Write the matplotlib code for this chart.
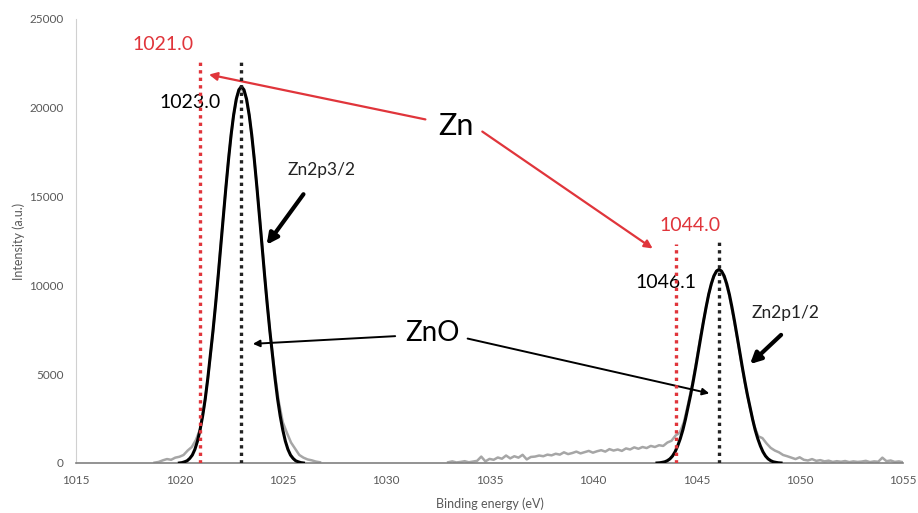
import numpy as np
import matplotlib.pyplot as plt

plt.rcParams['font.family'] = ['Lato', 'DejaVu Sans']

# measured spectrum, Zn2p3/2 window (0.2 eV steps)
raw_be_a = np.round(np.linspace(1018.8, 1026.8, 41), 1)
raw_int_a = [20, 60, 150, 220, 180, 300,
             350, 450, 700, 900, 1300,
             1900, 3200, 5000, 7100, 9500,
             12300, 14900, 17400, 19400, 20750,
             21100, 20700, 19400, 17400, 14900,
             12300, 9500, 7200, 5200, 3500,
             2300, 1700, 1150, 800, 450,
             300, 200, 150, 80, 40]

# measured spectrum, background + Zn2p1/2 window (0.2 eV steps)
raw_be_b = np.round(np.linspace(1033.0, 1055.0, 111), 1)
raw_int_b = [40, 90, 30, 60, 100, 40, 80, 120, 360, 90,
             230, 180, 310, 240, 420, 260, 380, 300, 460, 200,
             340, 360, 420, 380, 470, 430, 520, 470, 600, 500,
             560, 640, 540, 610, 680, 580, 660, 720, 640, 780,
             700, 760, 680, 820, 760, 880, 800, 900, 840, 960,
             900, 1000, 960, 1150, 1250,
             1550, 1700, 2300, 3300, 4400, 5700, 7100, 8300, 9500, 10350,
             10850, 10800, 10300, 9400, 8200, 6900, 5500, 4200, 3100, 2100,
             1500, 1400, 1100, 850, 700, 600, 450, 380, 300, 220,
             320, 180, 140, 220, 120, 160, 90, 130, 60, 100,
             70, 110, 50, 90, 60, 80, 120, 50, 90, 70,
             300, 100, 140, 60, 90, 40]

# fitted components (0.125 eV steps)
fit_be_1 = np.round(np.linspace(1020.0, 1026.0, 49), 3)
fit_int_1 = [0, 20, 65, 125, 255, 445, 765, 1230, 1865, 2650, 3605, 4770,
             6105, 7440, 8925, 10515, 12190, 13865, 15520, 17065, 18465, 19610,
             20480, 21010,
             21200,
             21010, 20480,
             19610, 18465, 17065, 15520, 13865, 12190, 10515, 8925, 7440, 6105,
             4770, 3605, 2650, 1865, 1230, 765, 445, 255, 125, 65, 20, 0]
fit_be_2 = np.round(np.linspace(1043.1, 1049.1, 49), 3)
fit_int_2 = [0, 10, 35, 65, 130, 230, 390, 630, 960, 1365, 1855, 2455,
             3140, 3825, 4590, 5405, 6270, 7130, 7980, 8775, 9495, 10080,
             10530, 10800,
             10900,
             10800, 10530,
             10080, 9495, 8775, 7980, 7130, 6270, 5405, 4590, 3825, 3140,
             2455, 1855, 1365, 960, 630, 390, 230, 130, 65, 35, 10, 0]

# reference positions: metallic Zn (red) and ZnO (black)
zn_pos = [1021.0, 1044.0]
zn_top = [22700, 12330]
zno_pos = [1023.0, 1046.1]
zno_top = [22700, 12440]

xticks = [1015, 1020, 1025, 1030, 1035, 1040, 1045, 1050, 1055]
yticks = [0, 5000, 10000, 15000, 20000, 25000]

RED = '#e0353b'

fig = plt.figure(figsize=(9.18, 5.13), dpi=100)
ax = fig.add_axes([0.0828, 0.0975, 0.9009, 0.8655])

ax.plot(raw_be_a, raw_int_a, color='#a6a6a6', lw=1.8, zorder=2)
ax.plot(raw_be_b, raw_int_b, color='#a6a6a6', lw=1.8, zorder=2)
ax.plot(fit_be_1, fit_int_1, color='black', lw=2.2, zorder=3)
ax.plot(fit_be_2, fit_int_2, color='black', lw=2.2, zorder=3)

for x, top in zip(zn_pos, zn_top):
    ax.plot([x, x], [0, top], color=RED, lw=2.4, ls=(0, (1, 1.25)), zorder=4)
for x, top in zip(zno_pos, zno_top):
    ax.plot([x, x], [0, top], color='#222222', lw=2.4, ls=(0, (1, 1.25)), zorder=4)

ax.text(1019.21, 23536, f'{zn_pos[0]:.1f}', color=RED, fontsize=14, ha='center', va='center')
ax.text(1044.70, 13345, f'{zn_pos[1]:.1f}', color=RED, fontsize=14, ha='center', va='center')
ax.text(1020.51, 20270, f'{zno_pos[0]:.1f}', color='black', fontsize=14, ha='center', va='center')
ax.text(1043.54, 10190, f'{zno_pos[1]:.1f}', color='black', fontsize=14, ha='center', va='center')

# Zn label with arrows to the metal lines
ax.text(1033.38, 18975, 'Zn', fontsize=22, ha='center', va='center')
ax.annotate('', xy=(1021.3, 21903), xytext=(1032.03, 19313),
            arrowprops=dict(arrowstyle='-|>', color=RED, lw=1.6, mutation_scale=12))
ax.annotate('', xy=(1043.0, 11990), xytext=(1034.54, 18750),
            arrowprops=dict(arrowstyle='-|>', color=RED, lw=1.6, mutation_scale=12))

# ZnO label with arrows to the oxide lines
ax.text(1032.22, 7320, 'ZnO', fontsize=20, ha='center', va='center')
ax.annotate('', xy=(1023.42, 6700), xytext=(1030.57, 7150),
            arrowprops=dict(arrowstyle='-|>', color='black', lw=1.4, mutation_scale=10))
ax.annotate('', xy=(1045.76, 3885), xytext=(1033.81, 7040),
            arrowprops=dict(arrowstyle='-|>', color='black', lw=1.4, mutation_scale=10))

# peak names
ax.text(1026.9, 16500, 'Zn2p3/2', fontsize=12.5, ha='center', va='center', color='#222222')
ax.annotate('', xy=(1024.14, 12160), xytext=(1026.08, 15260),
            arrowprops=dict(arrowstyle='-|>', color='black', lw=3, mutation_scale=16))
ax.text(1049.34, 8446, 'Zn2p1/2', fontsize=12.5, ha='center', va='center', color='#222222')
ax.annotate('', xy=(1047.5, 5460), xytext=(1049.2, 7320),
            arrowprops=dict(arrowstyle='-|>', color='black', lw=3, mutation_scale=16))

ax.set_xlim(1015, 1055)
ax.set_ylim(0, 25000)
ax.set_xticks(xticks)
ax.set_yticks(yticks)
ax.tick_params(length=0, labelsize=8.5, labelcolor='#595959')
ax.tick_params(axis='x', pad=9)
ax.tick_params(axis='y', pad=9)
for s in ['top', 'right']:
    ax.spines[s].set_visible(False)
ax.spines['left'].set_color('#d0d0d0')
ax.spines['bottom'].set_color('#808080')
ax.spines['bottom'].set_linewidth(1.2)

ax.set_xlabel('Binding energy (eV)', fontsize=9, color='#595959', labelpad=8)
ax.set_ylabel('Intensity (a.u.)', fontsize=9, color='#595959', labelpad=3)

fig.savefig('out.png', dpi=100)
